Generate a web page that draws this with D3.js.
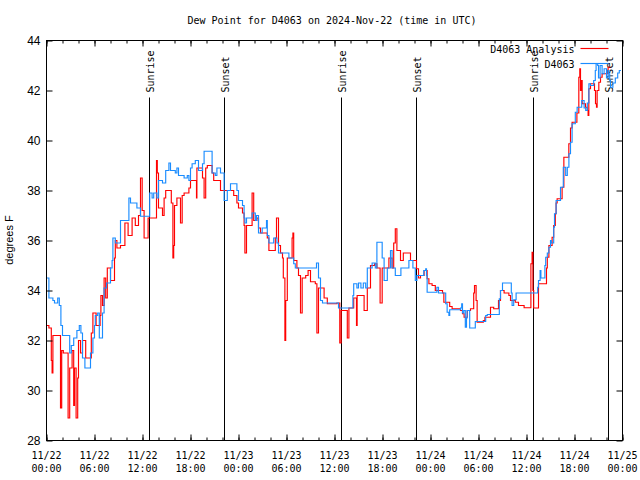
<!DOCTYPE html>
<html><head><meta charset="utf-8">
<script src="https://cdn.jsdelivr.net/npm/d3@7"></script>
<style>body{margin:0;background:#fff}</style>
</head><body>
<script>
// ---------- data ----------
const titleText = "Dew Point for D4063 on 2024-Nov-22 (time in UTC)";
const yAxisLabel = "degrees F";
const seriesNames = ["D4063 Analysis", "D4063"];
const startTime = "2024-11-22T00:00:00Z";
const endTime = "2024-11-25T00:00:00Z";
const yTicks = [28, 30, 32, 34, 36, 38, 40, 42, 44];
const sunLabels = ["Sunrise", "Sunset", "Sunrise", "Sunset", "Sunrise", "Sunset"];
const sunTimes = ["2024-11-22T12:52:00Z", "2024-11-22T22:15:00Z",
                  "2024-11-23T12:52:00Z", "2024-11-23T22:15:00Z",
                  "2024-11-24T12:52:00Z", "2024-11-24T22:15:00Z"];

// hours after start, dew point (F) — analysis
const anaHours = [0,0.3,0.6,0.7,0.8,1.75,1.9,2.1,2.7,2.9,3.2,3.4,3.5,3.7,3.9,4.0,4.25,4.5,4.9,5.6,5.8,6.2,6.7,6.8,7.0,7.2,7.4,7.6,8.0,8.5,8.6,8.8,9.25,9.8,10.2,10.7,11.1,11.5,11.75,11.96,12.2,12.7,13.75,13.85,14.0,14.5,14.7,14.9,15.6,15.8,15.9,16.0,16.3,16.75,16.96,17.2,17.8,18.0,18.75,18.8,19.5,19.7,19.9,20.1,20.7,20.9,21.75,22.6,23.4,23.8,24.0,24.5,24.7,24.8,25.0,25.7,25.9,26.3,26.5,26.75,27.6,27.8,28.6,28.75,29.0,29.25,29.5,29.6,29.8,29.9,30.1,30.7,30.8,30.9,31.3,31.5,31.75,31.96,32.4,32.7,33.0,33.6,33.8,34.0,34.7,35.1,36.3,36.66,36.83,37.6,37.8,38.4,38.75,38.83,39.7,40.1,40.5,41.0,41.3,41.7,41.96,42.8,43.2,43.4,43.6,43.8,44.25,44.6,45.5,46.25,46.5,46.75,47.2,47.58,47.8,48.2,48.6,49.5,49.67,50.4,50.7,51.75,52.0,52.2,52.6,53.0,53.4,53.5,53.7,53.83,54.6,54.8,55.5,55.9,56.5,56.75,57.2,57.8,58.0,58.6,59.0,59.7,60.55,60.7,60.8,60.9,61.5,62.5,62.6,62.8,63.2,63.4,63.6,63.7,63.83,64.45,64.67,65.29,65.5,65.7,66.3,66.54,66.66,66.75,66.85,66.96,67.375,67.6,67.7,67.79,68.0,68.5,68.625,68.75,68.83,69.04,69.25,69.45,70.2,70.5];
const anaDew = [32.6,32.5,31.2,30.7,32.2,29.3,31.6,31.5,28.9,30.9,31.6,29.4,30.9,28.9,30.5,32.0,31.5,32.0,31.3,32.3,33.1,32.6,33.0,33.8,33.4,34.5,33.7,34.9,34.4,35.3,36.0,35.7,35.8,36.7,36.2,36.9,36.6,37.0,38.5,37.2,36.1,36.9,39.2,38.7,37.3,37.0,37.7,38.0,37.5,35.3,35.8,37.4,37.7,36.7,37.8,37.9,38.1,38.4,37.7,38.9,38.5,37.7,38.9,39.0,38.7,38.4,38.0,38.0,37.8,37.5,37.3,37.1,36.6,35.5,36.6,37.9,36.8,36.9,36.5,36.3,36.1,35.6,36.1,36.9,35.8,35.5,35.3,34.5,32.0,33.6,35.3,36.1,36.3,35.2,34.9,34.6,33.1,34.5,34.6,34.8,34.35,34.27,32.3,34.1,33.7,33.47,33.5,31.9,33.2,32.1,33.3,33.7,32.6,33.8,33.2,34.1,35.0,35.07,34.9,33.5,34.9,35.3,34.9,35.9,36.47,35.6,35.2,35.5,35.2,34.87,34.5,34.6,34.8,34.47,34.27,34.2,34.0,33.9,33.53,33.36,33.27,33.2,33.07,32.93,33.2,33.27,33.9,34.2,33.6,32.73,32.8,32.93,33.33,33.27,33.6,34.0,33.9,33.8,33.6,33.53,33.4,33.31,35.07,35.53,34.0,33.3,34.27,34.9,35.33,35.8,36.13,36.6,37.07,37.5,37.67,38.13,39.33,39.87,40.5,40.73,41.1,42.53,42.87,42.0,42.4,41.47,41.33,41.2,41.0,42.07,42.27,42.0,41.47,41.33,42.0,42.33,42.53,42.67,42.93,42.93];

// hours after start, dew point (F) — station observations
const obsHours = [0,0.3,0.8,1.0,1.4,1.6,1.8,2.0,2.9,3.1,3.4,3.8,4.1,4.3,4.5,4.8,5.5,5.8,6.0,6.1,6.4,6.6,7.0,7.2,7.5,8.0,8.2,8.3,8.6,9.25,10.3,10.5,11.3,11.75,12.9,13.2,13.4,13.8,14.0,14.5,14.9,15.3,15.5,16.1,16.3,16.5,17.2,17.6,17.8,18.0,18.2,18.6,19.0,19.5,19.7,20.7,21.1,21.3,21.75,22.2,22.6,23.0,23.8,24.0,24.5,24.7,24.8,25.0,25.7,26.1,26.25,26.5,26.96,27.5,27.6,27.8,28.4,28.8,29.0,30.3,30.9,31.1,33.75,34.0,34.25,34.5,36.5,38.3,38.4,38.8,39.0,39.3,39.6,39.9,40.1,40.7,41.1,41.3,41.96,42.2,42.6,43.0,43.2,43.6,44.3,45.3,45.8,46.1,46.3,47.16,47.4,47.5,47.58,48.8,49.0,49.9,50.08,50.3,50.4,51.75,51.9,52.0,52.16,52.35,52.5,52.58,52.8,52.9,53.6,54.9,55.1,56.6,56.75,57.0,58.0,58.1,58.2,58.4,58.7,61.4,61.5,61.7,61.8,62.3,62.4,62.6,62.8,63.0,63.1,63.4,63.5,63.7,64.25,64.6,64.9,65.1,65.3,65.5,65.7,66.1,66.33,66.9,67.2,67.4,67.6,67.8,68.0,68.4,68.6,68.7,68.9,69.0,69.2,69.45,69.7,70.0,70.2,70.3,70.4,70.5,70.8,71.1,71.4,71.6,71.8];
const obsDew = [34.5,33.7,33.6,33.5,33.7,33.4,32.6,32.2,31.5,31.8,32.1,32.4,32.6,32.3,31.3,30.9,31.5,32.1,32.6,33.0,33.1,32.1,33.1,34.1,34.3,34.9,35.2,36.1,35.9,36.8,37.7,37.5,37.3,36.97,37.9,37.7,37.9,37.7,38.4,38.3,38.8,39.1,38.8,38.7,38.9,38.6,38.5,38.6,38.4,38.9,39.07,39.2,38.8,39.07,39.57,38.7,38.6,38.9,38.7,37.6,38.0,38.27,38.0,37.6,37.4,36.9,36.7,36.9,37.1,36.8,37.0,36.3,36.5,36.8,36.2,35.9,36.1,35.9,35.5,35.3,35.07,34.9,35.1,34.5,33.6,33.5,33.3,33.8,34.27,34.1,34.3,34.1,34.3,34.1,34.9,35.1,34.9,35.93,35.3,34.4,34.9,35.6,34.9,34.6,34.9,35.2,34.9,34.4,34.6,34.8,34.87,34.6,33.93,34.13,33.9,33.47,33.13,33.0,33.23,33.3,33.47,33.1,33.2,32.53,32.9,33.2,33.2,32.5,32.76,33.0,33.04,33.67,34.0,34.3,34.3,33.9,33.4,33.63,33.9,34.13,34.4,34.8,34.5,35.0,35.33,35.5,35.73,36.0,35.9,36.53,37.07,37.6,38.13,38.93,38.6,38.93,39.47,39.93,40.67,41.13,41.33,41.6,41.3,41.2,41.5,42.27,42.2,42.4,42.8,43.07,43.0,42.5,43.0,42.67,42.87,42.5,42.8,42.67,42.4,42.13,42.3,42.5,42.7,42.8,42.8];

// ---------- drawing ----------
const W = 640, H = 480;
const margin = {left: 46, right: 18, top: 40, bottom: 40};
const iw = W - margin.left - margin.right, ih = H - margin.top - margin.bottom;
const mono = "'DejaVu Sans Mono', monospace";
const sans = "'Liberation Sans', Arial, sans-serif";
const colors = ["#ff0000", "#1a8cff"];

const t0 = new Date(startTime);
const toDate = h => new Date(t0.getTime() + h * 3600e3);

const svg = d3.select("body").append("svg").attr("width", W).attr("height", H)
  .style("font-family", mono).style("font-size", "10px");

const xScale = d3.scaleUtc().domain([t0, new Date(endTime)]).range([0, iw]);
const yScale = d3.scaleLinear().domain([28, 44]).range([ih, 0]);

const g = svg.append("g").attr("transform", `translate(${margin.left + 0.5},${margin.top + 0.5})`);

// title
svg.append("text").attr("x", 332).attr("y", 24).attr("text-anchor", "middle").text(titleText);

// y label
svg.append("text").attr("transform", "translate(13,240) rotate(-90)")
  .attr("text-anchor", "middle").style("font-family", sans).style("font-size", "11px").text(yAxisLabel);

// sunrise / sunset lines
sunTimes.forEach((s, i) => {
  const xx = Math.round(xScale(new Date(s)));
  g.append("line").attr("x1", xx).attr("x2", xx).attr("y1", 57).attr("y2", ih)
    .attr("stroke", "#000").attr("stroke-width", 1);
  g.append("text").attr("transform", `translate(${xx + 4},${52}) rotate(-90)`)
    .attr("text-anchor", "start").text(sunLabels[i]);
});

// series
const lineGen = d3.line().x(d => xScale(d[0])).y(d => yScale(d[1])).curve(d3.curveStepAfter);
const anaData = anaHours.map((h, i) => [toDate(h), anaDew[i]]);
const obsData = obsHours.map((h, i) => [toDate(h), obsDew[i]]);
[anaData, obsData].forEach((d, i) => {
  g.append("path").datum(d).attr("d", lineGen).attr("fill", "none")
    .attr("stroke", colors[i]).attr("stroke-width", 1.15).attr("stroke-linejoin", "miter");
});

// axes (ticks inward, mirrored)
const majorX = xScale.ticks(d3.utcHour.every(6));
const minorX = xScale.ticks(d3.utcHour.every(2));
const fmtD = d3.utcFormat("%m/%d"), fmtT = d3.utcFormat("%H:%M");

g.append("g").attr("transform", `translate(0,${ih})`)
  .call(d3.axisBottom(xScale).tickValues(majorX).tickSizeInner(-6).tickSizeOuter(0).tickFormat(""));
g.append("g")
  .call(d3.axisTop(xScale).tickValues(majorX).tickSizeInner(-6).tickSizeOuter(0).tickFormat(""));
g.append("g").attr("transform", `translate(0,${ih})`)
  .call(d3.axisBottom(xScale).tickValues(minorX).tickSizeInner(-3).tickSizeOuter(0).tickFormat(""));
g.append("g")
  .call(d3.axisTop(xScale).tickValues(minorX).tickSizeInner(-3).tickSizeOuter(0).tickFormat(""));

// x tick labels (two lines)
majorX.forEach(d => {
  const t = g.append("text").attr("x", xScale(d)).attr("y", ih + 18).attr("text-anchor", "middle");
  t.append("tspan").attr("x", xScale(d)).text(fmtD(d));
  t.append("tspan").attr("x", xScale(d)).attr("dy", 13).text(fmtT(d));
});

const leftAxis = g.append("g")
  .call(d3.axisLeft(yScale).tickValues(yTicks).tickSizeInner(-6).tickSizeOuter(0).tickPadding(6).tickFormat(d3.format("d")));
leftAxis.selectAll("text").attr("x", -6).style("font-family", sans).style("font-size", "12px");
g.append("g").attr("transform", `translate(${iw},0)`)
  .call(d3.axisRight(yScale).tickValues(yTicks).tickSizeInner(-6).tickSizeOuter(0).tickFormat(""));

g.selectAll(".domain").remove();
g.selectAll(".tick line").attr("stroke", "#000");

// border
g.append("rect").attr("x", 0).attr("y", 0).attr("width", iw).attr("height", ih)
  .attr("fill", "none").attr("stroke", "#000").attr("stroke-width", 1);

// legend
seriesNames.forEach((n, i) => {
  const yy = 8 + i * 15;
  g.append("text").attr("x", iw - 48).attr("y", yy + 4).attr("text-anchor", "end").text(n);
  g.append("line").attr("x1", iw - 42).attr("x2", iw - 14).attr("y1", yy).attr("y2", yy)
    .attr("stroke", colors[i]).attr("stroke-width", 1.15);
});
</script>
</body></html>
